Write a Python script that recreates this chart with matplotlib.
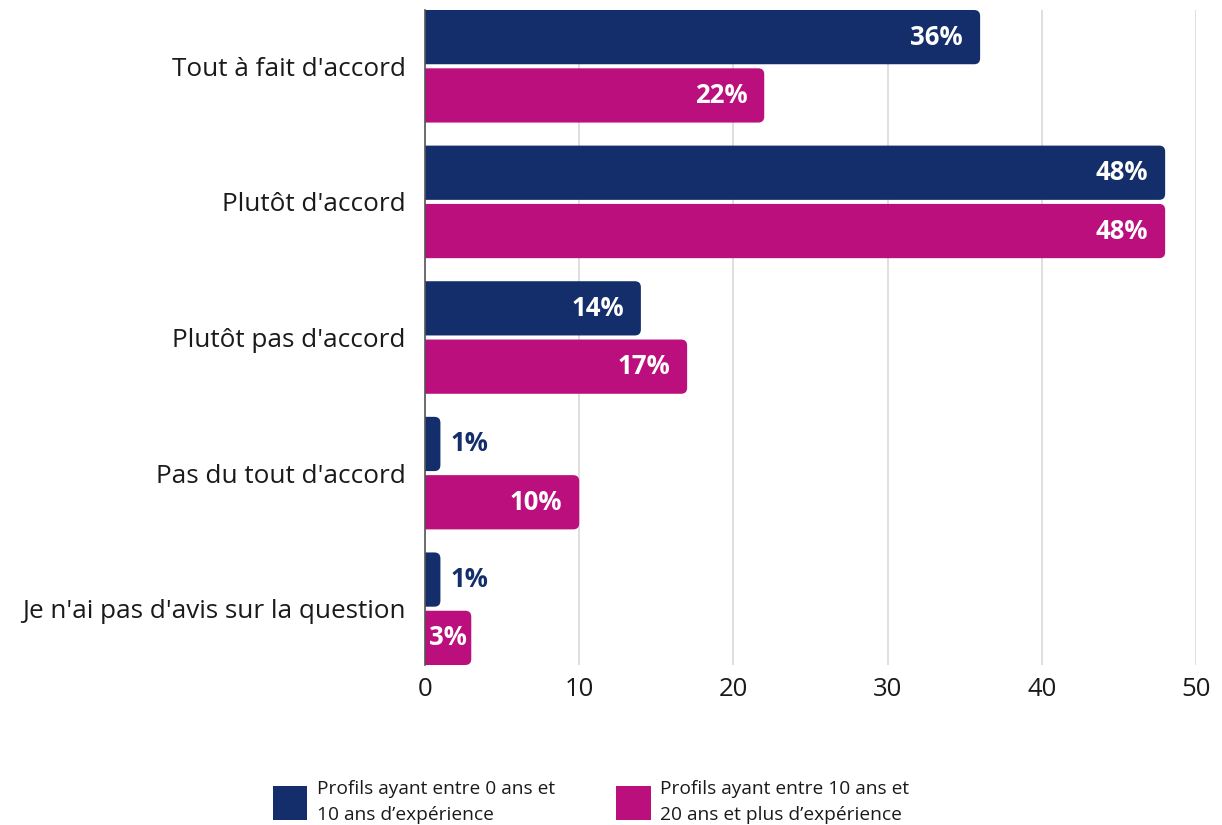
import matplotlib
matplotlib.use("Agg")
import matplotlib.pyplot as plt
from matplotlib.patches import FancyBboxPatch, Patch

categories = ["Tout à fait d'accord", "Plutôt d'accord", "Plutôt pas d'accord",
              "Pas du tout d'accord", "Je n'ai pas d'avis sur la question"]
junior = [36, 48, 14, 1, 1]
senior = [22, 48, 17, 10, 3]
series_labels = ["Profils ayant entre 0 ans et\n10 ans d\u2019expérience",
                 "Profils ayant entre 10 ans et\n20 ans et plus d\u2019expérience"]
colors = ["#132E6A", "#BA0F7D"]
xticks = [0, 10, 20, 30, 40, 50]

plt.rcParams["font.family"] = ["Open Sans", "DejaVu Sans"]

fig = plt.figure(figsize=(12.22, 8.25), dpi=100)
ax = fig.add_axes([425 / 1222, 1 - 665 / 825, (1196 - 425) / 1222, 655 / 825])

bar_h = 0.40
offset = 0.215
ax.set_xlim(0, 50)
ax.set_ylim(len(categories) - 1 + offset + bar_h / 2, -offset - bar_h / 2)

fig.canvas.draw()
renderer = fig.canvas.get_renderer()
bb = ax.get_window_extent()
px_x = bb.width / 50.0
px_y = bb.height / (len(categories) - 1 + 2 * offset + bar_h)
aspect = px_x / px_y
radius = 6 / px_x  # corner radius in x data units


def rounded_bar(y_center, value, color):
    left = -radius * 1.5
    box = FancyBboxPatch((left, y_center - bar_h / 2), value - left, bar_h,
                         boxstyle=f"round,pad=0,rounding_size={radius}",
                         mutation_aspect=aspect, facecolor=color,
                         edgecolor="none", zorder=3, clip_on=True)
    ax.add_patch(box)


for i, (a, b) in enumerate(zip(junior, senior)):
    for val, yc, col in [(a, i - offset, colors[0]), (b, i + offset, colors[1])]:
        rounded_bar(yc, val, col)
        label = f"{val}%"
        if val >= 3:
            t = ax.text(val - 17 / px_x, yc, label, ha="right", va="center",
                        color="white", fontsize=18.5, fontweight="bold", zorder=4)
            w = t.get_window_extent(renderer).width / px_x
            if val - 17 / px_x - w < 4 / px_x:
                t.set_x(4 / px_x)
                t.set_ha("left")
        else:
            ax.text(val + 10 / px_x, yc, label, ha="left", va="center",
                    color=col, fontsize=18.5, fontweight="bold", zorder=4)

ax.set_yticks(range(len(categories)))
ax.set_yticklabels(categories, fontsize=18.8, color="#1a1a1a")
ax.set_xticks(xticks)
ax.set_xticklabels([str(t) for t in xticks], fontsize=18.5, color="#1a1a1a")
ax.tick_params(axis="both", length=0)
ax.tick_params(axis="y", pad=14)
ax.tick_params(axis="x", pad=9)

ax.grid(axis="x", color="#d9d9d9", linewidth=1.2, zorder=0)
ax.set_axisbelow(True)
for s in ["top", "right", "bottom"]:
    ax.spines[s].set_visible(False)
ax.spines["left"].set_color("#555555")
ax.spines["left"].set_linewidth(1.2)
ax.spines["left"].set_zorder(5)

handles = [Patch(facecolor=c, edgecolor="none") for c in colors]
leg = fig.legend(handles, series_labels, loc="center",
                 bbox_to_anchor=(591 / 1222, 1 - 802 / 825), ncol=2,
                 frameon=False, fontsize=13.8, handlelength=1.8,
                 handleheight=2.4, handletextpad=0.5, columnspacing=3.2)
for t in leg.get_texts():
    t.set_linespacing(1.5)
    t.set_color("#1a1a1a")

fig.savefig("out.png", dpi=100)
